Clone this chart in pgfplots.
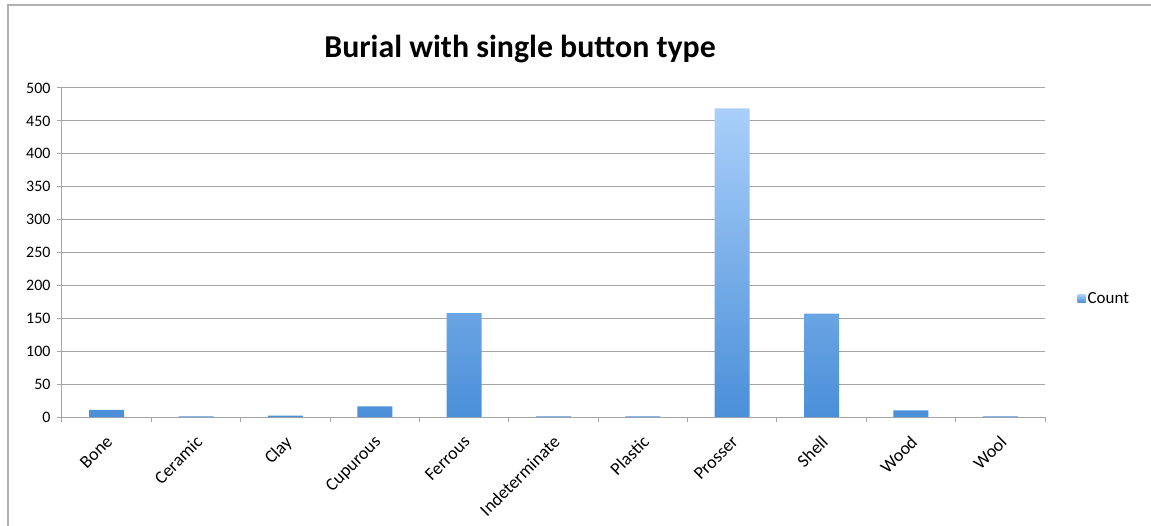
\documentclass[border=0pt]{standalone}
\usepackage{fontspec}
\setmainfont{Carlito}
\usepackage{pgfplots}
\pgfplotsset{compat=1.18}
\definecolor{bartop}{HTML}{AACFFA}
\definecolor{barbot}{HTML}{4A8FD8}
\definecolor{gridc}{HTML}{A5A5A5}
\definecolor{framec}{HTML}{B0B0B0}
\begin{document}
\begin{tikzpicture}
\useasboundingbox (-62bp,-109bp) rectangle (1089bp,417bp);
\draw[framec, line width=1.2bp] (-54bp,-130bp) -- (-54bp,412bp) -- (1100bp,412bp);
\begin{axis}[
  at={(0bp,0bp)}, anchor=south west,
  scale only axis, width=983bp, height=329bp,
  xmin=-0.5, xmax=10.5, ymin=0, ymax=500,
  ytick={0,50,...,500},
  xtick={-0.5,0.5,...,10.5}, xticklabels={},
  extra x ticks={0,1,2,3,4,5,6,7,8,9,10},
  extra x tick labels={Bone,Ceramic,Clay,Cupurous,Ferrous,Indeterminate,Plastic,Prosser,Shell,Wood,Wool},
  extra x tick style={major tick length=0pt, tick label style={rotate=45, anchor=north east, xshift=-10bp, yshift=-8bp, font=\fontsize{18}{21}\selectfont}},
  axis x line*=bottom, axis y line*=left,
  axis line style={gridc, line width=1bp, -},
  ymajorgrids, grid style={gridc, line width=1bp},
  tick align=outside, major tick length=5bp,
  tick style={gridc, line width=1bp},
  ticklabel style={font=\fontsize{16}{19}\selectfont, text=black},
  yticklabel style={xshift=-3bp},
  /pgf/number format/assume math mode=true,
  ybar, bar width=35bp,
  title={Burial with single button type},
  title style={at={(0.466,1.10)}, anchor=center, font=\fontsize{32}{36}\selectfont\bfseries},
  legend style={at={(1.030,0.36)}, anchor=west, draw=none, fill=none, font=\fontsize{17}{20}\selectfont},
  legend image code/.code={\fill[barbot!60!bartop] (0bp,-4bp) rectangle (8bp,4bp);},
]
\addplot[draw=none, top color=bartop, bottom color=barbot] coordinates {
(0,11) (1,1) (2,2) (3,16) (4,158) (5,1) (6,1) (7,469) (8,157) (9,10) (10,1)
};
\addlegendentry{Count}
\end{axis}
\end{tikzpicture}
\end{document}
